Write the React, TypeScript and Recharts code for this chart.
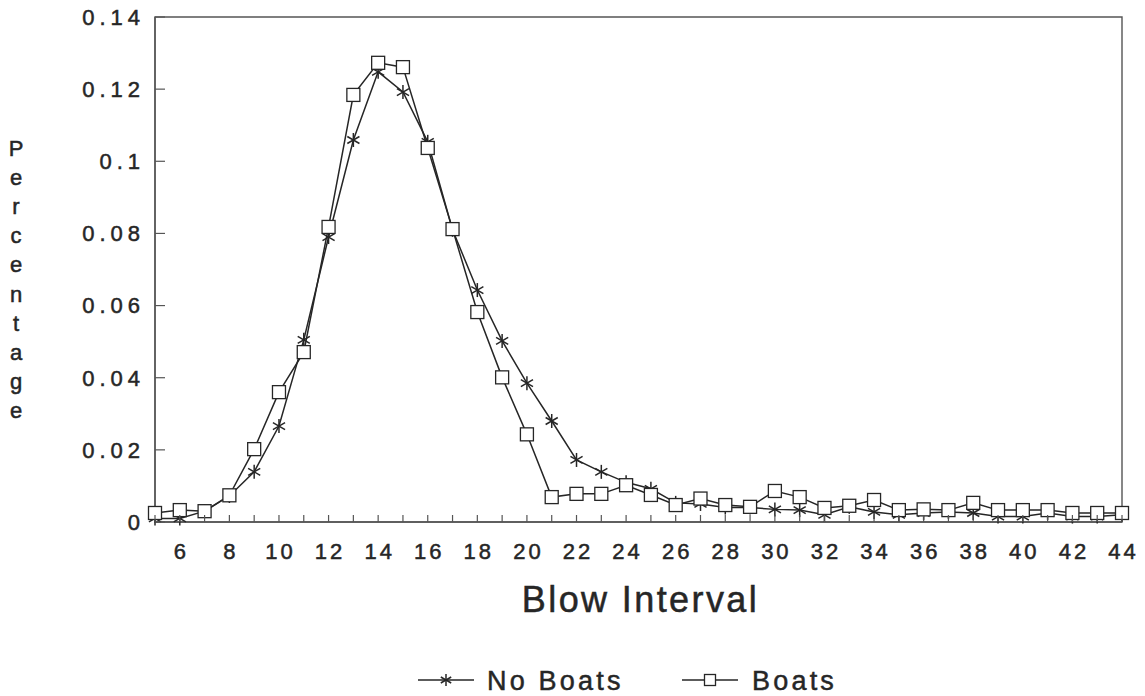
import {
  LineChart, Line, XAxis, YAxis, ReferenceArea, Label, Legend
} from 'recharts'

// blow interval (s), one point per second
const intervals = [
  5, 6, 7, 8, 9, 10, 11, 12, 13, 14, 15, 16, 17, 18, 19, 20, 21, 22, 23, 24,
  25, 26, 27, 28, 29, 30, 31, 32, 33, 34, 35, 36, 37, 38, 39, 40, 41, 42, 43, 44,
]

const noBoats = [
  0.001, 0.001, 0.003, 0.0072, 0.0139, 0.0266, 0.0505, 0.079, 0.1059, 0.1248,
  0.1192, 0.1054, 0.081, 0.0643, 0.0502, 0.0385, 0.028, 0.0172, 0.0139, 0.011,
  0.0092, 0.0053, 0.005, 0.004, 0.004, 0.0035, 0.0033, 0.002, 0.0042, 0.0028,
  0.002, 0.0025, 0.0028, 0.0025, 0.0015, 0.0015, 0.0025, 0.0015, 0.0015, 0.002,
]

const boats = [
  0.0025, 0.0033, 0.003, 0.0074, 0.0202, 0.036, 0.0471, 0.0818, 0.1184, 0.1273,
  0.1261, 0.1037, 0.0812, 0.0582, 0.0401, 0.0243, 0.0069, 0.0078, 0.0078, 0.0102,
  0.0075, 0.0047, 0.0065, 0.0047, 0.0042, 0.0086, 0.0069, 0.0039, 0.0045, 0.0061,
  0.0033, 0.0035, 0.0033, 0.0053, 0.0033, 0.0033, 0.0033, 0.0025, 0.0025, 0.0025,
]

const yTicks = [0, 0.02, 0.04, 0.06, 0.08, 0.1, 0.12, 0.14]
const xLabelled = [6, 8, 10, 12, 14, 16, 18, 20, 22, 24, 26, 28, 30, 32, 34, 36, 38, 40, 42, 44]

const data = intervals.map((x, i) => ({ x, noBoats: noBoats[i], boats: boats[i] }))

const INK = '#262626'
const AXIS = '#555'
const FONT = '"Liberation Sans", Arial, Helvetica, sans-serif'
// the scanned lettering is a little heavier than the regular face
const TEXT = { fill: INK, stroke: INK, strokeWidth: 0.5, fontFamily: FONT }

function Star({ cx, cy, r = 7 }: { cx: number; cy: number; r?: number }) {
  const dx = r * Math.cos(Math.PI / 6)
  const dy = r * Math.sin(Math.PI / 6)
  return (
    <g stroke={INK} strokeWidth={1.5}>
      <line x1={cx} y1={cy - r} x2={cx} y2={cy + r} />
      <line x1={cx - dx} y1={cy - dy} x2={cx + dx} y2={cy + dy} />
      <line x1={cx - dx} y1={cy + dy} x2={cx + dx} y2={cy - dy} />
    </g>
  )
}

function Square({ cx, cy, s = 13 }: { cx: number; cy: number; s?: number }) {
  return (
    <rect x={cx - s / 2} y={cy - s / 2} width={s} height={s}
      fill="#fff" stroke={INK} strokeWidth={1.3} />
  )
}

const starDot = (p: any) => <Star key={`s${p.index}`} cx={p.cx} cy={p.cy} />
const squareDot = (p: any) => <Square key={`q${p.index}`} cx={p.cx} cy={p.cy} />

function XTick({ x, y, payload }: any) {
  const v = payload.value
  return (
    <g>
      <line x1={x} x2={x} y1={y} y2={y - 7} stroke={AXIS} strokeWidth={1.2} />
      {xLabelled.includes(v) && (
        <text x={x + 1.5} y={y + 37} textAnchor="middle" fontSize={22}
          letterSpacing={3} {...TEXT}>{v}</text>
      )}
    </g>
  )
}

function YTick({ x, y, payload }: any) {
  return (
    <g>
      <line x1={x} x2={x + 10} y1={y} y2={y} stroke={AXIS} strokeWidth={1.2} />
      <text x={x - 10} y={y} dy="0.36em" textAnchor="end" fontSize={22}
        letterSpacing={5} {...TEXT}>{String(payload.value)}</text>
    </g>
  )
}

function LegendBox() {
  return (
    <svg width={1145} height={40} style={{ display: 'block' }}>
      <line x1={418} x2={474} y1={19} y2={19} stroke={INK} strokeWidth={1.3} />
      <Star cx={446} cy={19} r={6} />
      <text x={487} y={29} fontSize={27} letterSpacing={3.2} {...TEXT}>No Boats</text>
      <line x1={682} x2={738} y1={19} y2={19} stroke={INK} strokeWidth={1.3} />
      <Square cx={710} cy={19} s={11} />
      <text x={752} y={29} fontSize={27} letterSpacing={3.2} {...TEXT}>Boats</text>
    </svg>
  )
}

export default function App() {
  return (
    <div style={{ position: 'absolute', left: 0, top: 0, background: '#fff' }}>
      <LineChart width={1145} height={696} data={data}
        margin={{ top: 17, right: 23, bottom: 0, left: 0 }}>
        <XAxis dataKey="x" type="number" domain={[5, 44]} ticks={intervals}
          interval={0} tickSize={0} tickMargin={0} tickLine={false}
          height={174} axisLine={{ stroke: AXIS, strokeWidth: 1.4 }} tick={<XTick />}>
          <Label content={({ viewBox }: any) => (
            <text x={viewBox.x + viewBox.width / 2 + 2} y={viewBox.y + 90} textAnchor="middle"
              fontSize={36} letterSpacing={2.4} {...TEXT}>Blow Interval</text>
          )} />
        </XAxis>
        <YAxis type="number" domain={[0, 0.14]} ticks={yTicks} interval={0}
          tickSize={0} tickMargin={0} tickLine={false} width={155}
          axisLine={{ stroke: AXIS, strokeWidth: 1.4 }} tick={<YTick />}>
          <Label content={() => (
            <text x={16} y={156} textAnchor="middle" fontSize={22} {...TEXT}>
              {'Percentage'.split('').map((c, i) => (
                <tspan key={i} x={16} dy={i === 0 ? 0 : 29.1}>{c}</tspan>
              ))}
            </text>
          )} />
        </YAxis>
        <ReferenceArea x1={5} x2={44} y1={0} y2={0.14} fill="none"
          stroke={AXIS} strokeWidth={1.4} />
        <Line dataKey="noBoats" name="No Boats" type="linear" stroke={INK}
          strokeWidth={1.5} dot={starDot} isAnimationActive={false} />
        <Line dataKey="boats" name="Boats" type="linear" stroke={INK}
          strokeWidth={1.5} dot={squareDot} isAnimationActive={false} />
        <Legend layout="horizontal" verticalAlign="middle" align="center"
          wrapperStyle={{ top: 661, left: 0, width: 1145 }} content={() => <LegendBox />} />
      </LineChart>
    </div>
  )
}
